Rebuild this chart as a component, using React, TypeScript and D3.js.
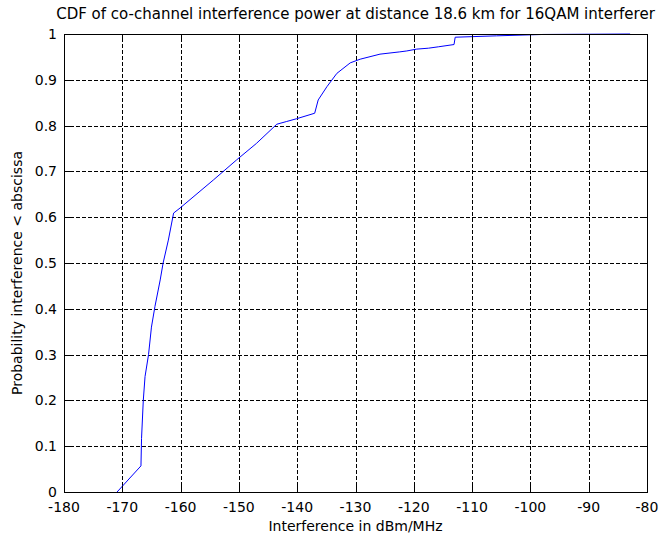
import React, { useEffect, useRef } from "react";
import * as d3 from "d3";

// curve points (dBm/MHz, probability)
const interference = [
  -170.9, -166.8, -166.7, -166.4, -166.1, -165.5, -165.0, -164.4, -163.5, -163.0,
  -162.1, -161.2, -160.1, -154.4, -150.4, -147.0, -143.5, -141.8, -140.1, -137.0,
  -136.4, -134.9, -133.2, -130.9, -129.2, -125.8, -122.4, -121.2, -119.5, -117.5,
  -115.8, -113.1, -112.9, -105.8, -97.8, -82.9,
];
const probability = [
  0.0, 0.057, 0.117, 0.2, 0.252, 0.3, 0.36, 0.405, 0.463, 0.5,
  0.55, 0.609, 0.62, 0.681, 0.725, 0.761, 0.803, 0.809, 0.815, 0.827,
  0.856, 0.885, 0.914, 0.937, 0.945, 0.956, 0.961, 0.963, 0.967, 0.969,
  0.972, 0.977, 0.993, 0.996, 0.999, 1.0,
];
const xTicks = [-180, -170, -160, -150, -140, -130, -120, -110, -100, -90, -80];
const yTicks = [0, 0.1, 0.2, 0.3, 0.4, 0.5, 0.6, 0.7, 0.8, 0.9, 1];

const titleText = "CDF of co-channel interference power at distance 18.6 km for 16QAM interferer";
const xLabel = "Interference in dBm/MHz";
const yLabel = "Probability interference < abscissa";

export default function App() {
  const svgRef = useRef<SVGSVGElement>(null);

  const width = 662;
  const height = 543;
  const margin = { top: 34, right: 15, bottom: 51, left: 64 };
  const font = "'DejaVu Sans', sans-serif";

  useEffect(() => {
    const svg = d3.select(svgRef.current);
    svg.selectAll("*").remove();

    const x = d3.scaleLinear().domain([-180, -80]).range([margin.left, width - margin.right]);
    const y = d3.scaleLinear().domain([0, 1]).range([height - margin.bottom, margin.top]);

    const x0 = margin.left, x1 = width - margin.right;
    const y0 = height - margin.bottom, y1 = margin.top;

    svg.append("rect").attr("width", width).attr("height", height).attr("fill", "white");

    // grid (dashed)
    const grid = svg.append("g").attr("stroke", "black").attr("stroke-width", 1)
      .attr("stroke-dasharray", "4,2").attr("shape-rendering", "crispEdges");
    grid.selectAll("line.vx")
      .data(xTicks.slice(1, -1))
      .join("line")
      .attr("class", "vx")
      .attr("x1", d => Math.round(x(d)) + 0.5).attr("x2", d => Math.round(x(d)) + 0.5)
      .attr("y1", y0).attr("y2", y1);
    grid.selectAll("line.hy")
      .data(yTicks.slice(1, -1))
      .join("line")
      .attr("class", "hy")
      .attr("y1", d => Math.round(y(d)) + 0.5).attr("y2", d => Math.round(y(d)) + 0.5)
      .attr("x1", x0).attr("x2", x1);

    // data line
    const pts = interference.map((v, i) => [v, probability[i]] as [number, number]);
    const linePath = d3.line<[number, number]>().x(d => x(d[0])).y(d => y(d[1]));
    svg.append("path")
      .datum(pts)
      .attr("d", linePath)
      .attr("fill", "none")
      .attr("stroke", "#0000ff")
      .attr("stroke-width", 1);

    // inner ticks
    const ticks = svg.append("g").attr("stroke", "black").attr("shape-rendering", "crispEdges");
    xTicks.forEach(t => {
      const px = Math.round(x(t)) + 0.5;
      ticks.append("line").attr("x1", px).attr("x2", px).attr("y1", y0).attr("y2", y0 - 6);
      ticks.append("line").attr("x1", px).attr("x2", px).attr("y1", y1).attr("y2", y1 + 6);
    });
    yTicks.forEach(t => {
      const py = Math.round(y(t)) + 0.5;
      ticks.append("line").attr("x1", x0).attr("x2", x0 + 6).attr("y1", py).attr("y2", py);
      ticks.append("line").attr("x1", x1).attr("x2", x1 - 6).attr("y1", py).attr("y2", py);
    });

    // axes box
    svg.append("rect")
      .attr("x", x0 + 0.5).attr("y", y1 + 0.5)
      .attr("width", x1 - x0).attr("height", y0 - y1)
      .attr("fill", "none").attr("stroke", "black").attr("shape-rendering", "crispEdges");

    // tick labels
    svg.selectAll("text.xt")
      .data(xTicks)
      .join("text")
      .attr("class", "xt")
      .attr("x", d => x(d))
      .attr("y", 512)
      .attr("text-anchor", "middle")
      .style("font-family", font).style("font-size", "14px")
      .text(d => String(d));
    svg.selectAll("text.yt")
      .data(yTicks)
      .join("text")
      .attr("class", "yt")
      .attr("x", x0 - 7)
      .attr("y", d => y(d) + 5)
      .attr("text-anchor", "end")
      .style("font-family", font).style("font-size", "14px")
      .text(d => String(d));

    // title + axis labels
    svg.append("text")
      .attr("x", (x0 + x1) / 2).attr("y", 19)
      .attr("text-anchor", "middle")
      .style("font-family", font).style("font-size", "15px")
      .text(titleText);
    svg.append("text")
      .attr("x", (x0 + x1) / 2).attr("y", 531)
      .attr("text-anchor", "middle")
      .style("font-family", font).style("font-size", "14px")
      .text(xLabel);
    svg.append("text")
      .attr("transform", `translate(22,273) rotate(-90)`)
      .attr("text-anchor", "middle")
      .style("font-family", font).style("font-size", "14px")
      .text(yLabel);
  }, []);

  return (
    <svg ref={svgRef} width={width} height={height}
      style={{ position: "absolute", left: 0, top: 0 }} />
  );
}
